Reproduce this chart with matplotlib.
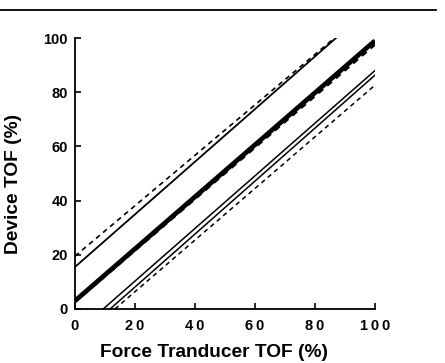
import matplotlib
matplotlib.use("Agg")
import matplotlib.pyplot as plt
from matplotlib.lines import Line2D

plt.rcParams['font.family'] = ['Liberation Sans', 'DejaVu Sans']
plt.rcParams['font.weight'] = 'bold'

# Lines: (x values, y values)
upper_dash_x = [0, 86.5]
upper_dash_y = [19.5, 100]
upper_solid_x = [0, 87]
upper_solid_y = [15.5, 100]
center_thick_x = [0, 100]
center_thick_y = [3, 99]
center_dash_x = [0, 100]
center_dash_y = [2.5, 97.5]
lower_solid1_x = [9.4, 100]
lower_solid1_y = [0, 88]
lower_solid2_x = [11.7, 100]
lower_solid2_y = [0, 86.3]
lower_dash_x = [13.3, 100]
lower_dash_y = [0, 82.6]

xticks = [0, 20, 40, 60, 80, 100]
xticklabels = ['0', '2\u20090', '4\u20090', '6\u20090', '8\u20090', '1\u20090\u20090']
yticks = [0, 20, 40, 60, 80, 100]
yticklabels = ['0', '20', '40', '60', '80', '100']

fig = plt.figure(figsize=(4.45, 3.63), dpi=100)
ax = fig.add_axes([0.1685, 0.1488, 0.6742, 0.7465])

dash = (0, (3, 2.5))
ax.plot(upper_dash_x, upper_dash_y, color='black', lw=1.2, linestyle=dash)
ax.plot(upper_solid_x, upper_solid_y, color='black', lw=1.3)
ax.plot(center_thick_x, center_thick_y, color='black', lw=3.4, solid_capstyle='butt')
ax.plot(center_dash_x, center_dash_y, color='black', lw=1.5, linestyle=dash)
ax.plot(lower_solid1_x, lower_solid1_y, color='black', lw=1.1)
ax.plot(lower_solid2_x, lower_solid2_y, color='black', lw=1.1)
ax.plot(lower_dash_x, lower_dash_y, color='black', lw=1.1, linestyle=dash)

ax.set_xlim(0, 100)
ax.set_ylim(0, 100)
ax.spines['top'].set_visible(False)
ax.spines['right'].set_visible(False)
ax.spines['left'].set_linewidth(1.3)
ax.spines['bottom'].set_linewidth(1.3)
ax.set_xticks(xticks)
ax.set_xticklabels(xticklabels)
ax.set_yticks(yticks)
ax.set_yticklabels(yticklabels)
ax.tick_params(direction='in', length=4, width=1.2, labelsize=10.5)
ax.tick_params(axis='x', pad=7)
ax.tick_params(axis='y', pad=5)
for lab in ax.get_xticklabels() + ax.get_yticklabels():
    lab.set_fontweight('bold')

ax.set_xlabel('Force Tranducer TOF (%)', fontsize=13.8, fontweight='bold')
ax.set_ylabel('Device TOF (%)', fontsize=13.8, fontweight='bold')
ax.xaxis.set_label_coords(0.465, -0.13)
ax.yaxis.set_label_coords(-0.175, 0.46)

fig.add_artist(Line2D([0.0, 0.98], [1 - 10 / 363, 1 - 10 / 363], transform=fig.transFigure,
                      color='black', lw=1.3))

fig.savefig('out.png', dpi=100)
